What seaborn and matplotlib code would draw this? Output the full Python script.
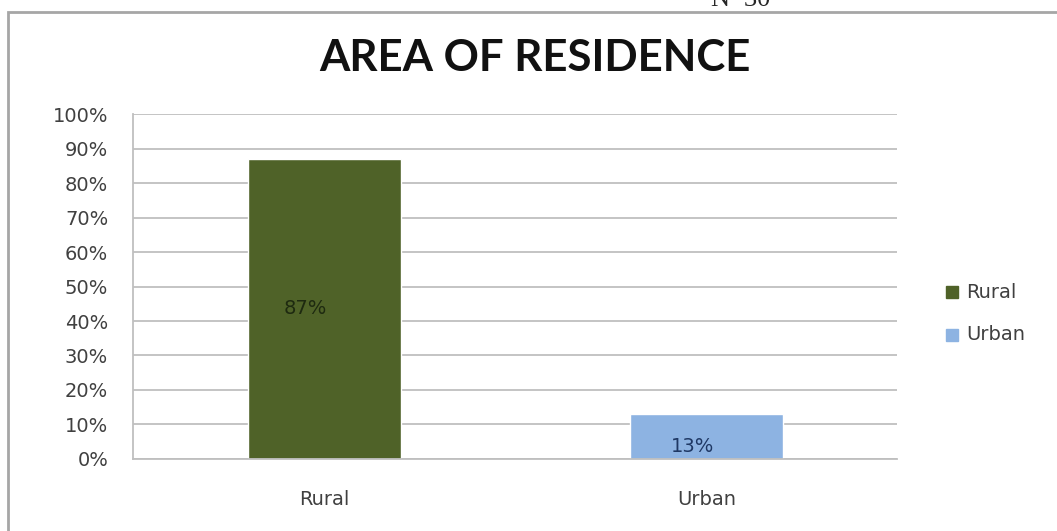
import pandas as pd
import matplotlib
matplotlib.use("Agg")
import matplotlib.pyplot as plt
import seaborn as sns
from matplotlib.patches import Rectangle

categories = ["Rural", "Urban"]
percentages = [87, 13]
bar_colors = ["#4F6228", "#8DB3E2"]
label_colors = ["#1E2A10", "#1F3864"]
y_ticks = [0, 10, 20, 30, 40, 50, 60, 70, 80, 90, 100]

df = pd.DataFrame({"area": categories, "pct": percentages})

sns.set_style("white")
plt.rcParams["font.family"] = ["DejaVu Sans"]

fig = plt.figure(figsize=(10.57, 5.31), dpi=100)
ax = fig.add_axes([0.126, 0.1356, 0.723, 0.6497])

# outer chart frame (right and bottom edges run off the picture)
fig.patches.append(Rectangle((8 / 1057, -0.05), 1.1, 0.05 + 1 - 12 / 531,
                             transform=fig.transFigure, fill=False,
                             edgecolor="#A6A6A6", linewidth=2))

sns.barplot(data=df, x="area", y="pct", hue="area", palette=bar_colors,
            width=0.4, saturation=1, dodge=False, legend=False, ax=ax)

ax.set_ylim(0, 100)
ax.set_xlim(-0.5, 1.5)
ax.set_yticks(y_ticks)
ax.set_yticklabels([f"{v}%" for v in y_ticks], fontsize=14, color="#404040")
ax.set_xticks([0, 1])
ax.set_xticklabels(categories, fontsize=14, color="#404040")
ax.set_xticks([-0.5, 0.5, 1.5], minor=True)
ax.tick_params(axis="x", which="major", length=0, pad=22)
ax.tick_params(axis="x", which="minor", length=6, color="#BFBFBF", direction="out")
ax.tick_params(axis="y", length=7, color="#BFBFBF", direction="out", pad=11)
ax.yaxis.grid(True, color="#BFBFBF", linewidth=1.3)
ax.set_axisbelow(True)
ax.set_xlabel("")
ax.set_ylabel("")
for side in ["top", "right"]:
    ax.spines[side].set_visible(False)
for side in ["left", "bottom"]:
    ax.spines[side].set_color("#BFBFBF")
    ax.spines[side].set_linewidth(1.3)

# value labels inside bars
offsets = [-0.05, -0.035]
for i, v in enumerate(percentages):
    y = v / 2 if v > 30 else 3.5
    ax.text(i + offsets[i], y, f"{v}%", ha="center", va="center", fontsize=14,
            color=label_colors[i])

# legend
for i, (c, col) in enumerate(zip(categories, bar_colors)):
    fy = 1 - (292 + i * 43) / 531
    fig.patches.append(Rectangle((946 / 1057, fy - 0.012), 12 / 1057, 12 / 531,
                                 transform=fig.transFigure, color=col))
    fig.text(966 / 1057, fy, c, fontsize=14, color="#404040", va="center")

fig.text(0.506, 0.89, "AREA OF RESIDENCE", ha="center", va="center",
         fontsize=31.5, fontweight="bold", color="#111111", family="Lato")
fig.text(0.700, 1 - 6 / 531, "N=30", ha="center", va="baseline", fontsize=19,
         family="Liberation Serif")

fig.savefig("out.png", dpi=100)
